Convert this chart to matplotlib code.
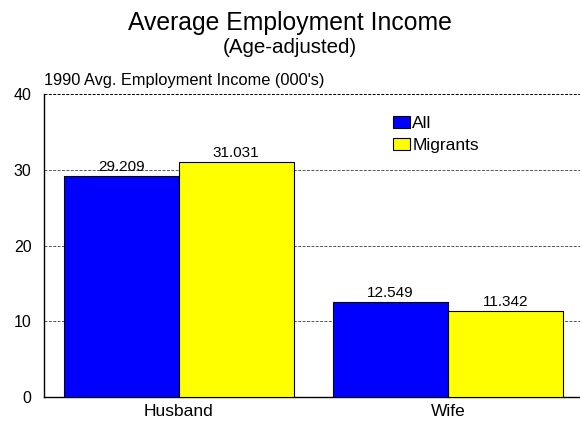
import numpy as np
import matplotlib
matplotlib.use("Agg")
import matplotlib.pyplot as plt

plt.rcParams['font.family'] = ['Liberation Sans', 'DejaVu Sans']

# data
categories = ["Husband", "Wife"]
all_values = [29.209, 12.549]
migrant_values = [31.031, 11.342]
series_names = ["All", "Migrants"]
y_ticks = [0, 10, 20, 30, 40]

fig = plt.figure(figsize=(5.8, 4.26), dpi=100)
ax = fig.add_axes([0.0759, 0.0681, 0.9241, 0.7112])

x = np.arange(len(categories))
w = 0.4275
b1 = ax.bar(x - w / 2, all_values, w, color="#0000ff", edgecolor="black", linewidth=0.8,
            label=series_names[0], zorder=3)
b2 = ax.bar(x + w / 2, migrant_values, w, color="#ffff00", edgecolor="black", linewidth=0.8,
            label=series_names[1], zorder=3)

for bars, vals in ((b1, all_values), (b2, migrant_values)):
    for rect, v in zip(bars, vals):
        ax.annotate(f"{v:.3f}", (rect.get_x() + rect.get_width() / 2, v),
                    xytext=(0, 1.5), textcoords="offset points",
                    ha="center", va="bottom", fontsize=11)

ax.set_xlim(-0.5, 1.49)
ax.set_ylim(0, 40)
ax.set_yticks(y_ticks)
ax.set_xticks(x)
ax.set_xticklabels(categories, fontsize=12.5)
ax.tick_params(axis="y", length=0, labelsize=11.5, pad=9)
ax.tick_params(axis="x", length=0, pad=5)

for t in y_ticks[1:]:
    ax.axhline(t, color="black" if t == 40 else "#555555", linestyle=(0, (3, 1.5)),
               linewidth=0.7, zorder=1)

for s in ("top", "right"):
    ax.spines[s].set_visible(False)
ax.spines["left"].set_linewidth(1.0)
ax.spines["bottom"].set_linewidth(1.0)

ax.legend(loc="upper left", bbox_to_anchor=(0.635, 0.955), frameon=False, fontsize=12.5,
          handlelength=1.0, handleheight=0.7, handletextpad=0.1, labelspacing=0.35,
          borderpad=0)

fig.text(0.5, 0.947, "Average Employment Income", ha="center", va="center", fontsize=17.8)
fig.text(0.5, 0.888, "(Age-adjusted)", ha="center", va="center", fontsize=14.8)
fig.text(0.0759, 0.812, "1990 Avg. Employment Income (000's)", ha="left", va="center", fontsize=11.8)

fig.savefig("out.png", dpi=100)
